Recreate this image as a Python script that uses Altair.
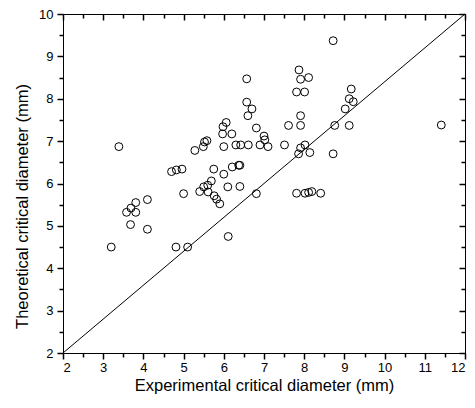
import altair as alt
import pandas as pd

# Experimental vs theoretical critical diameter (mm)
exp_d = [3.20, 3.39, 3.58, 3.68, 3.69, 3.81, 3.81, 4.10, 4.10, 4.81,
         5.10, 4.70, 4.82, 4.96, 5.00, 5.28, 5.40, 5.50, 5.60, 5.61,
         5.49, 5.52, 5.58, 5.69, 5.75, 5.76, 5.82, 5.90, 5.97, 5.98,
         6.06, 6.00, 6.00, 6.10, 6.11, 6.20, 6.21, 6.30, 6.37, 6.40,
         6.40, 6.42, 6.57, 6.57, 6.70, 6.60, 6.61, 6.81, 6.81, 6.90,
         7.00, 7.02, 7.10, 7.51, 7.61, 7.81, 7.87, 7.91, 8.01, 8.11,
         7.91, 7.91, 7.91, 8.02, 7.86, 8.14, 7.81, 8.02, 8.11, 8.19,
         8.41, 8.72, 8.72, 8.76, 9.02, 9.12, 9.17, 9.22, 9.12, 11.41]
theo_d = [4.50, 6.87, 5.32, 5.03, 5.42, 5.55, 5.32, 5.62, 4.92, 4.50,
          4.50, 6.28, 6.32, 6.34, 5.76, 6.78, 5.81, 5.92, 5.96, 5.80,
          6.87, 6.98, 7.01, 6.06, 6.34, 5.71, 5.63, 5.52, 7.17, 7.34,
          7.44, 6.87, 6.22, 5.92, 4.75, 7.17, 6.39, 6.91, 6.43, 6.43,
          5.93, 6.91, 8.47, 7.92, 7.76, 7.60, 6.91, 7.31, 5.76, 6.91,
          7.12, 7.03, 6.87, 6.91, 7.37, 8.16, 8.68, 8.46, 8.16, 8.50,
          7.60, 7.37, 6.84, 6.91, 6.70, 6.73, 5.77, 5.77, 5.79, 5.81,
          5.77, 9.37, 6.70, 7.37, 7.76, 8.00, 8.23, 7.93, 7.37, 7.38]

# reference line (corner to corner of the plot)
diag_x = [2, 12]
diag_y = [2, 10]

x_major = [2, 3, 4, 5, 6, 7, 8, 9, 10, 11, 12]
x_minor = [2.5, 3.5, 4.5, 5.5, 6.5, 7.5, 8.5, 9.5, 10.5, 11.5]
y_major = [2, 3, 4, 5, 6, 7, 8, 9, 10]
y_minor = [2.5, 3.5, 4.5, 5.5, 6.5, 7.5, 8.5, 9.5]

W, H = 402, 339
FONT = "Liberation Sans"

pts = pd.DataFrame({"x": exp_d, "y": theo_d})
diag = pd.DataFrame({"x": diag_x, "y": diag_y})

xs = alt.Scale(domain=[2, 12], nice=False, zero=False)
ys = alt.Scale(domain=[2, 10], nice=False, zero=False)

def ax(orient, values, size, labels=False, offset=0, **kw):
    return alt.Axis(orient=orient, values=values, tickSize=size, labels=labels,
                    offset=offset, domain=False, grid=False,
                    tickColor="black", tickWidth=1.5, **kw)

points = alt.Chart(pts).mark_point(
    shape="circle", filled=False, color="black", size=62, strokeWidth=1, opacity=1
).encode(
    x=alt.X("x:Q", scale=xs, axis=ax(
        "bottom", x_major, 6, labels=True, labelPadding=2, labelFontSize=13,
        labelFont=FONT, labelColor="black",
        title="Experimental critical diameter (mm)", titleFont=FONT,
        titleFontSize=16.5, titleFontWeight="normal", titleColor="black",
        titleY=37, titleBaseline="alphabetic")),
    y=alt.Y("y:Q", scale=ys, axis=ax(
        "left", y_major, 6, labels=True, labelPadding=4, labelFontSize=13,
        labelFont=FONT, labelColor="black",
        title="Theoretical critical diameter (mm)", titleFont=FONT,
        titleFontSize=16.5, titleFontWeight="normal", titleColor="black",
        titleX=-36, titleY=192, titleBaseline="alphabetic", titleAlign="center")),
)

line = alt.Chart(diag).mark_line(color="black", strokeWidth=1).encode(
    x=alt.X("x:Q", scale=xs, axis=ax("bottom", x_major, 6, offset=-H, title=None)),
    y=alt.Y("y:Q", scale=ys, axis=ax("left", y_major, 6, offset=-W, title=None)),
)

minor = alt.Chart(diag).mark_line(opacity=0).encode(
    x=alt.X("x:Q", scale=xs, axis=ax("bottom", x_minor, 4, title=None)),
    y=alt.Y("y:Q", scale=ys, axis=ax("left", y_minor, 4, title=None)),
)

minor_mirror = alt.Chart(diag).mark_line(opacity=0).encode(
    x=alt.X("x:Q", scale=xs, axis=ax("bottom", x_minor, 4, offset=-H, title=None)),
    y=alt.Y("y:Q", scale=ys, axis=ax("left", y_minor, 4, offset=-W, title=None)),
)

chart = alt.layer(points, line, minor, minor_mirror).resolve_axis(
    x="independent", y="independent"
).properties(
    width=W, height=H,
    autosize=alt.AutoSizeParams(type="none"),
    padding={"left": 63, "top": 14, "right": 10, "bottom": 55},
).configure_view(stroke="black", strokeWidth=1)

chart.save("out.html", embed_options={"renderer": "svg", "actions": False})
